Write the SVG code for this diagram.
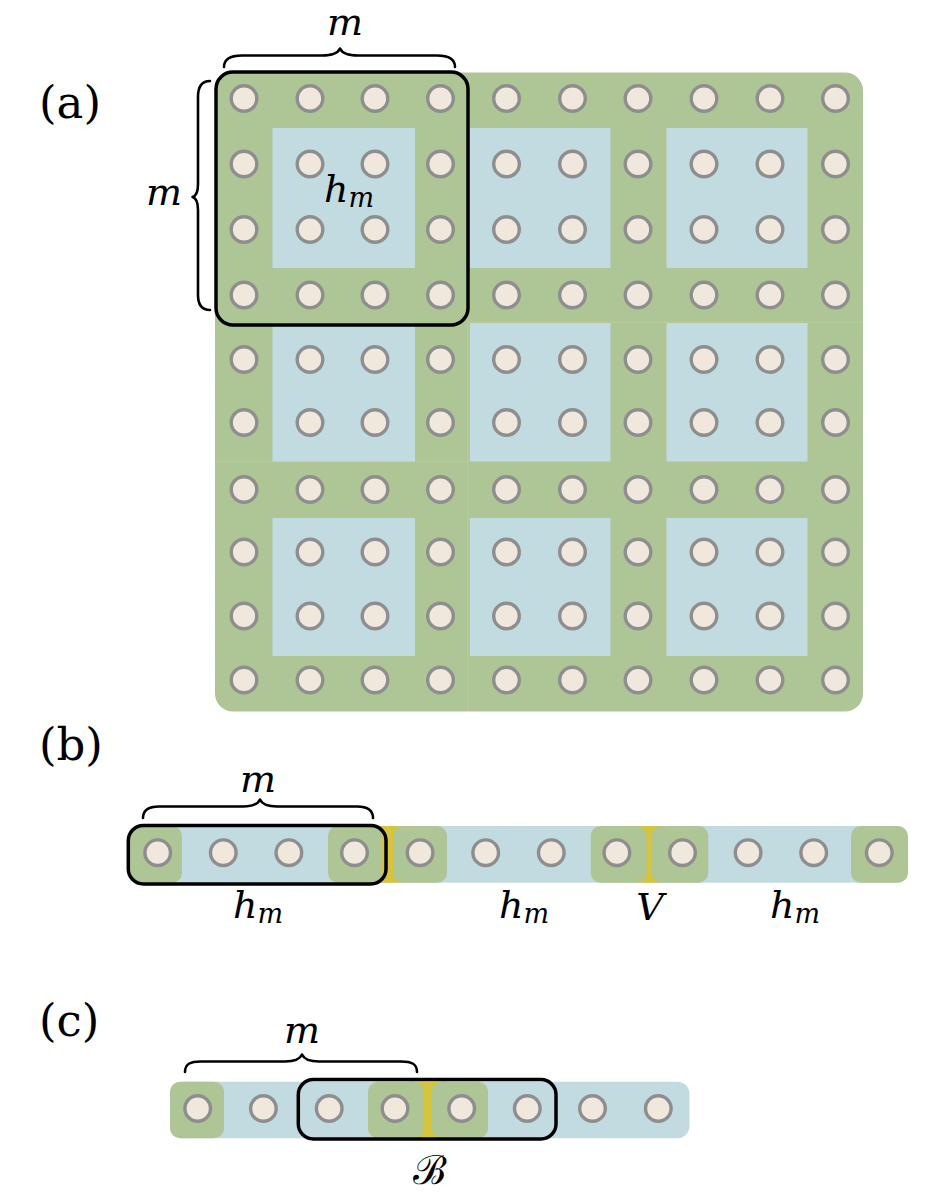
<svg xmlns="http://www.w3.org/2000/svg" xmlns:xlink="http://www.w3.org/1999/xlink" width="932" height="1200" viewBox="0 0 932 1200">
<style>
.bg{fill:#ffffff}
.gr{fill:#aec596}
.bl{fill:#c2dbe0}
.ye{fill:#d5c43c}
.q{fill:#f0e8dd;stroke:#8e8e8e;stroke-width:3.4}
.box{fill:none;stroke:#000;stroke-width:3.5}
.br{fill:none;stroke:#000;stroke-width:2.6;stroke-linecap:round;stroke-linejoin:round}
.seam{fill:none;stroke:#d8d49a;stroke-width:1;opacity:0.35}
.mi{font-family:"DejaVu Serif",serif;font-style:italic;font-size:38px;fill:#000}
.lab{font-family:"DejaVu Serif",serif;font-size:45px;fill:#000}
.cal{font-family:"DejaVu Serif",serif;font-size:40px;fill:#000}
</style>
<defs>
<circle id="q" r="12.8" class="q"/>
</defs>
<rect class="bg" x="0" y="0" width="932" height="1200"/>

<g id="panel-a">
  <text class="lab" x="39" y="118">(a)</text>
  <g id="a-background">
    <rect class="gr" x="215" y="72.5" width="648" height="639" rx="18"/>
    <path class="seam" d="M468 322 H862 M468 322 V711 M215 461.5 H468"/>
  </g>
  <g id="a-blocks">
    <rect class="bl" x="272.5" y="128" width="142.5" height="140"/>
    <rect class="bl" x="470" y="128" width="140.5" height="140"/>
    <rect class="bl" x="666.5" y="128" width="141" height="140"/>
    <rect class="bl" x="272.5" y="323" width="142.5" height="138.5"/>
    <rect class="bl" x="470" y="323" width="140.5" height="138.5"/>
    <rect class="bl" x="666.5" y="323" width="141" height="138.5"/>
    <rect class="bl" x="272.5" y="518" width="142.5" height="138"/>
    <rect class="bl" x="470" y="518" width="140.5" height="138"/>
    <rect class="bl" x="666.5" y="518" width="141" height="138"/>
  </g>
  <g id="a-qubits">
    <g>
      <use xlink:href="#q" x="244" y="98.5"/><use xlink:href="#q" x="310" y="98.5"/><use xlink:href="#q" x="375" y="98.5"/><use xlink:href="#q" x="440.5" y="98.5"/><use xlink:href="#q" x="506.5" y="98.5"/><use xlink:href="#q" x="572.5" y="98.5"/><use xlink:href="#q" x="638" y="98.5"/><use xlink:href="#q" x="704" y="98.5"/><use xlink:href="#q" x="770" y="98.5"/><use xlink:href="#q" x="835.5" y="98.5"/>
    </g>
    <g>
      <use xlink:href="#q" x="244" y="164"/><use xlink:href="#q" x="310" y="164"/><use xlink:href="#q" x="375" y="164"/><use xlink:href="#q" x="440.5" y="164"/><use xlink:href="#q" x="506.5" y="164"/><use xlink:href="#q" x="572.5" y="164"/><use xlink:href="#q" x="638" y="164"/><use xlink:href="#q" x="704" y="164"/><use xlink:href="#q" x="770" y="164"/><use xlink:href="#q" x="835.5" y="164"/>
    </g>
    <g>
      <use xlink:href="#q" x="244" y="229.5"/><use xlink:href="#q" x="310" y="229.5"/><use xlink:href="#q" x="375" y="229.5"/><use xlink:href="#q" x="440.5" y="229.5"/><use xlink:href="#q" x="506.5" y="229.5"/><use xlink:href="#q" x="572.5" y="229.5"/><use xlink:href="#q" x="638" y="229.5"/><use xlink:href="#q" x="704" y="229.5"/><use xlink:href="#q" x="770" y="229.5"/><use xlink:href="#q" x="835.5" y="229.5"/>
    </g>
    <g>
      <use xlink:href="#q" x="244" y="295"/><use xlink:href="#q" x="310" y="295"/><use xlink:href="#q" x="375" y="295"/><use xlink:href="#q" x="440.5" y="295"/><use xlink:href="#q" x="506.5" y="295"/><use xlink:href="#q" x="572.5" y="295"/><use xlink:href="#q" x="638" y="295"/><use xlink:href="#q" x="704" y="295"/><use xlink:href="#q" x="770" y="295"/><use xlink:href="#q" x="835.5" y="295"/>
    </g>
    <g>
      <use xlink:href="#q" x="244" y="359.5"/><use xlink:href="#q" x="310" y="359.5"/><use xlink:href="#q" x="375" y="359.5"/><use xlink:href="#q" x="440.5" y="359.5"/><use xlink:href="#q" x="506.5" y="359.5"/><use xlink:href="#q" x="572.5" y="359.5"/><use xlink:href="#q" x="638" y="359.5"/><use xlink:href="#q" x="704" y="359.5"/><use xlink:href="#q" x="770" y="359.5"/><use xlink:href="#q" x="835.5" y="359.5"/>
    </g>
    <g>
      <use xlink:href="#q" x="244" y="422.5"/><use xlink:href="#q" x="310" y="422.5"/><use xlink:href="#q" x="375" y="422.5"/><use xlink:href="#q" x="440.5" y="422.5"/><use xlink:href="#q" x="506.5" y="422.5"/><use xlink:href="#q" x="572.5" y="422.5"/><use xlink:href="#q" x="638" y="422.5"/><use xlink:href="#q" x="704" y="422.5"/><use xlink:href="#q" x="770" y="422.5"/><use xlink:href="#q" x="835.5" y="422.5"/>
    </g>
    <g>
      <use xlink:href="#q" x="244" y="489.5"/><use xlink:href="#q" x="310" y="489.5"/><use xlink:href="#q" x="375" y="489.5"/><use xlink:href="#q" x="440.5" y="489.5"/><use xlink:href="#q" x="506.5" y="489.5"/><use xlink:href="#q" x="572.5" y="489.5"/><use xlink:href="#q" x="638" y="489.5"/><use xlink:href="#q" x="704" y="489.5"/><use xlink:href="#q" x="770" y="489.5"/><use xlink:href="#q" x="835.5" y="489.5"/>
    </g>
    <g>
      <use xlink:href="#q" x="244" y="552"/><use xlink:href="#q" x="310" y="552"/><use xlink:href="#q" x="375" y="552"/><use xlink:href="#q" x="440.5" y="552"/><use xlink:href="#q" x="506.5" y="552"/><use xlink:href="#q" x="572.5" y="552"/><use xlink:href="#q" x="638" y="552"/><use xlink:href="#q" x="704" y="552"/><use xlink:href="#q" x="770" y="552"/><use xlink:href="#q" x="835.5" y="552"/>
    </g>
    <g>
      <use xlink:href="#q" x="244" y="616"/><use xlink:href="#q" x="310" y="616"/><use xlink:href="#q" x="375" y="616"/><use xlink:href="#q" x="440.5" y="616"/><use xlink:href="#q" x="506.5" y="616"/><use xlink:href="#q" x="572.5" y="616"/><use xlink:href="#q" x="638" y="616"/><use xlink:href="#q" x="704" y="616"/><use xlink:href="#q" x="770" y="616"/><use xlink:href="#q" x="835.5" y="616"/>
    </g>
    <g>
      <use xlink:href="#q" x="244" y="680"/><use xlink:href="#q" x="310" y="680"/><use xlink:href="#q" x="375" y="680"/><use xlink:href="#q" x="440.5" y="680"/><use xlink:href="#q" x="506.5" y="680"/><use xlink:href="#q" x="572.5" y="680"/><use xlink:href="#q" x="638" y="680"/><use xlink:href="#q" x="704" y="680"/><use xlink:href="#q" x="770" y="680"/><use xlink:href="#q" x="835.5" y="680"/>
    </g>
  </g>
  <g id="a-window">
    <rect class="box" x="216" y="72" width="252" height="253" rx="17"/>
    <text class="mi" x="324" y="202">h<tspan font-size="27" dy="5">m</tspan></text>
  </g>
  <text class="mi" x="345" y="35" text-anchor="middle">m</text>
  <text class="mi" x="164" y="205" text-anchor="middle">m</text>
</g>

<g id="panel-b">
  <text class="lab" x="39" y="760">(b)</text>
  <rect class="bl" x="128" y="826" width="780" height="56.7" rx="12"/>
  <rect class="ye" x="370" y="826" width="32" height="56.7"/>
  <rect class="ye" x="636" y="826" width="26" height="56.7"/>
  <g id="b-boundaries">
    <rect class="gr" x="128" y="826" width="54" height="56.7" rx="10"/>
    <rect class="gr" x="328" y="826" width="54" height="56.7" rx="10"/>
    <rect class="gr" x="393" y="826" width="54" height="56.7" rx="10"/>
    <rect class="gr" x="590.7" y="826" width="56" height="56.7" rx="10"/>
    <rect class="gr" x="651.7" y="826" width="56.6" height="56.7" rx="10"/>
    <rect class="gr" x="851" y="826" width="57" height="56.7" rx="10"/>
  </g>
  <g id="b-qubits">
    <use xlink:href="#q" x="157.7" y="852.7"/><use xlink:href="#q" x="223.3" y="852.7"/><use xlink:href="#q" x="288.9" y="852.7"/><use xlink:href="#q" x="354.5" y="852.7"/><use xlink:href="#q" x="420.1" y="852.7"/><use xlink:href="#q" x="485.7" y="852.7"/><use xlink:href="#q" x="551.3" y="852.7"/><use xlink:href="#q" x="616.9" y="852.7"/><use xlink:href="#q" x="682.5" y="852.7"/><use xlink:href="#q" x="748.1" y="852.7"/><use xlink:href="#q" x="813.7" y="852.7"/><use xlink:href="#q" x="879.3" y="852.7"/>
  </g>
  <g id="b-window">
    <rect class="box" x="128.3" y="825.5" width="257.7" height="58.5" rx="15"/>
  </g>
  <text class="mi" x="258" y="792" text-anchor="middle">m</text>
  <text class="mi" x="233" y="918">h<tspan font-size="27" dy="5">m</tspan></text>
  <text class="mi" x="499" y="918">h<tspan font-size="27" dy="5">m</tspan></text>
  <text class="mi" x="650" y="920" text-anchor="middle">V</text>
  <text class="mi" x="770" y="918">h<tspan font-size="27" dy="5">m</tspan></text>
</g>

<g id="panel-c">
  <text class="lab" x="39" y="1036">(c)</text>
  <rect class="bl" x="170" y="1081.7" width="519.5" height="56.6" rx="12"/>
  <rect class="ye" x="410" y="1081.7" width="36" height="56.6"/>
  <g id="c-boundaries">
    <rect class="gr" x="170" y="1081.7" width="54" height="56.6" rx="10"/>
    <rect class="gr" x="368" y="1081.7" width="56" height="56.6" rx="10"/>
    <rect class="gr" x="432" y="1081.7" width="56" height="56.6" rx="10"/>
  </g>
  <g id="c-qubits">
    <use xlink:href="#q" x="197.7" y="1108.5"/><use xlink:href="#q" x="263.4" y="1108.5"/><use xlink:href="#q" x="329.2" y="1108.5"/><use xlink:href="#q" x="395" y="1108.5"/><use xlink:href="#q" x="461.7" y="1108.5"/><use xlink:href="#q" x="527.3" y="1108.5"/><use xlink:href="#q" x="592.5" y="1108.5"/><use xlink:href="#q" x="658.3" y="1108.5"/>
  </g>
  <g id="c-window">
    <rect class="box" x="298.3" y="1079.5" width="257.7" height="59.5" rx="15"/>
  </g>
  <text class="mi" x="302" y="1043" text-anchor="middle">m</text>
  <text class="cal" x="430" y="1184" text-anchor="middle">ℬ</text>
</g>

<g id="connectors">
  <path class="br" d="M224 67 C224 59 230 55.5 242 55.5 L322 55.5 C333 55.5 338 53 340 48.5 C342 53 347 55.5 358 55.5 L437 55.5 C449 55.5 455 59 455 67"/>
  <path class="br" d="M210 81 C202 81 198 86 198 97 L198 184 C198 192 196 196 192.5 197 C196 198 198 202 198 210 L198 295 C198 305 202 310 210 310"/>
  <path class="br" d="M143 818 C143 810 148 806.5 159 806.5 L243 806.5 C254 806.5 258 804 260 799.5 C262 804 266 806.5 277 806.5 L357 806.5 C368 806.5 373 810 373 818"/>
  <path class="br" d="M185 1072 C185 1064 190 1061.5 201 1061.5 L285 1061.5 C296 1061.5 300 1059 302 1054.5 C304 1059 308 1061.5 319 1061.5 L401 1061.5 C412 1061.5 417 1064 417 1072"/>
</g>
</svg>
